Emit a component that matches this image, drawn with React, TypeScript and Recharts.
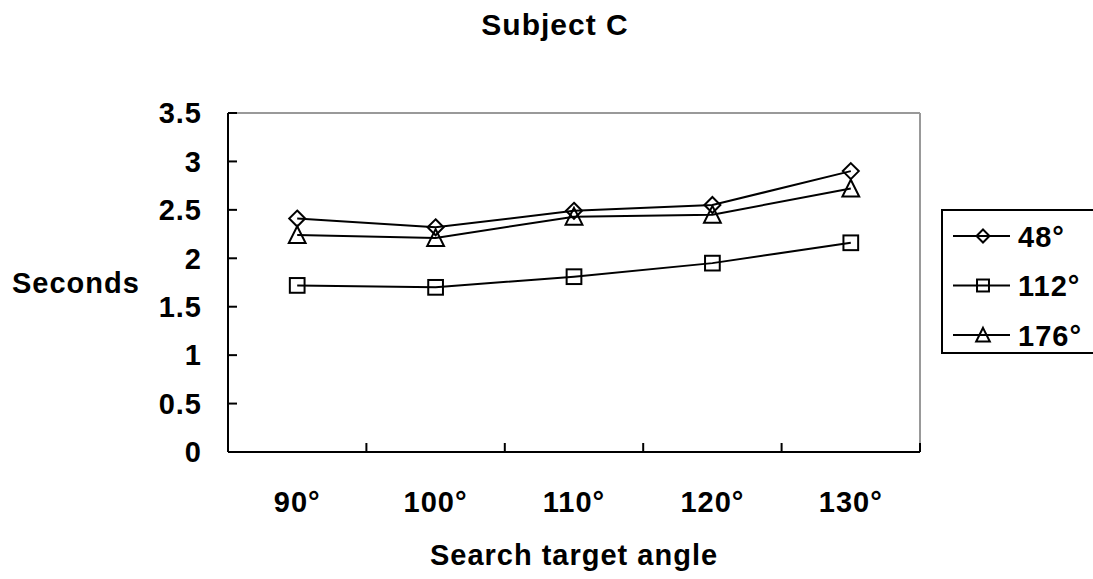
import { LineChart, Line, XAxis, YAxis, Legend, Label, ReferenceLine } from 'recharts'

const CATEGORIES = ['90°', '100°', '110°', '120°', '130°']
const SERIES_48 = [2.41, 2.32, 2.49, 2.55, 2.9]
const SERIES_112 = [1.72, 1.7, 1.81, 1.95, 2.16]
const SERIES_176 = [2.24, 2.21, 2.43, 2.45, 2.72]
const Y_TICKS = [0, 0.5, 1, 1.5, 2, 2.5, 3, 3.5]
const BOUNDARY_TICKS = [-0.5, 0.5, 1.5, 2.5, 3.5, 4.5]
const LABEL_TICKS = [0, 1, 2, 3, 4]

const SERIES = [
  { key: 's48', name: '48°', shape: 'diamond' },
  { key: 's112', name: '112°', shape: 'square' },
  { key: 's176', name: '176°', shape: 'triangle' },
]

const data = CATEGORIES.map((c, i) => ({
  idx: i,
  cat: c,
  s48: SERIES_48[i],
  s112: SERIES_112[i],
  s176: SERIES_176[i],
}))

const FONT = '"Liberation Sans", Arial, sans-serif'

function Marker({ shape, cx, cy, r }: { shape: string; cx: number; cy: number; r: number }) {
  const common = { fill: 'none', stroke: '#000', strokeWidth: 2 }
  if (shape === 'diamond') {
    return <polygon points={`${cx},${cy - r} ${cx + r},${cy} ${cx},${cy + r} ${cx - r},${cy}`} {...common} />
  }
  if (shape === 'square') {
    const h = r * 0.92
    return <rect x={cx - h} y={cy - h} width={h * 2} height={h * 2} {...common} />
  }
  return (
    <polygon
      points={`${cx},${cy - r * 1.1} ${cx + r * 1.05},${cy + r} ${cx - r * 1.05},${cy + r}`}
      {...common}
    />
  )
}

function LegendBox() {
  return (
    <svg width={160} height={141} style={{ display: 'block' }}>
      {SERIES.map((s, i) => {
        const y = 25 + i * 49.5
        return (
          <g key={s.key}>
            <line x1={10} x2={67} y1={y} y2={y} stroke="#000" strokeWidth={2} />
            <Marker shape={s.shape} cx={40} cy={y} r={6.5} />
            <text x={75} y={y + 10.5} fontSize={29} fontWeight="bold" fill="#000" fontFamily={FONT}>
              {s.name}
            </text>
          </g>
        )
      })}
    </svg>
  )
}

export default function App() {
  const tickStyle = { fontSize: 29, fill: '#000', fontWeight: 'bold', fontFamily: FONT }
  return (
    <div
      style={{
        position: 'absolute',
        left: 0,
        top: 0,
        width: 1093,
        height: 579,
        background: '#fff',
        fontFamily: FONT,
        fontWeight: 'bold',
        letterSpacing: '1px',
      }}
    >
      <div
        style={{
          position: 'absolute',
          left: 0,
          top: 10,
          width: 1110,
          textAlign: 'center',
          fontSize: 30,
          lineHeight: '30px',
          color: '#000',
        }}
      >
        Subject C
      </div>
      <LineChart width={1093} height={579} data={data} margin={{ top: 113, right: 173, bottom: 0, left: 0 }}>
        <XAxis
          xAxisId="z_labels"
          type="number"
          dataKey="idx"
          domain={[-0.5, 4.5]}
          ticks={LABEL_TICKS}
          tickFormatter={(v: number) => CATEGORIES[v] ?? ''}
          tickSize={0}
          tickMargin={38}
          height={126}
          axisLine={false}
          tickLine={false}
          tick={tickStyle}
          allowDataOverflow
        >
          <Label
            value="Search target angle"
            position="insideBottom"
            offset={14}
            style={{ fontSize: 29, fill: '#000', fontWeight: 'bold' }}
          />
        </XAxis>
        <XAxis
          xAxisId="a_ticks"
          type="number"
          dataKey="idx"
          domain={[-0.5, 4.5]}
          ticks={BOUNDARY_TICKS}
          tickFormatter={() => ''}
          tickSize={-9}
          height={1}
          axisLine={{ stroke: '#000', strokeWidth: 2 }}
          tickLine={{ stroke: '#000', strokeWidth: 2 }}
          allowDataOverflow
        />
        <YAxis
          type="number"
          domain={[0, 3.5]}
          ticks={Y_TICKS}
          width={228}
          tickSize={-9}
          tickMargin={35}
          axisLine={{ stroke: '#000', strokeWidth: 2 }}
          tickLine={{ stroke: '#000', strokeWidth: 2 }}
          tick={tickStyle}
        >
          <Label
            value="Seconds"
            position="insideLeft"
            offset={12}
            style={{ fontSize: 29, fill: '#000', fontWeight: 'bold', textAnchor: 'start' }}
          />
        </YAxis>
        <ReferenceLine xAxisId="z_labels" y={3.5} stroke="#999" strokeWidth={2} />
        <ReferenceLine xAxisId="z_labels" x={4.5} stroke="#999" strokeWidth={2} />
        <Legend
          layout="vertical"
          align="center"
          verticalAlign="middle"
          content={() => <LegendBox />}
          wrapperStyle={{
            position: 'absolute',
            left: 941,
            top: 209,
            width: 170,
            height: 145,
            border: '2px solid #000',
            boxSizing: 'border-box',
            background: '#fff',
          }}
        />
        {SERIES.map(s => (
          <Line
            key={s.key}
            xAxisId="z_labels"
            dataKey={s.key}
            name={s.name}
            type="linear"
            stroke="#000"
            strokeWidth={2}
            isAnimationActive={false}
            dot={(p: any) => <Marker key={`${s.key}-${p.index}`} shape={s.shape} cx={p.cx} cy={p.cy} r={8} />}
            activeDot={false}
          />
        ))}
      </LineChart>
    </div>
  )
}
